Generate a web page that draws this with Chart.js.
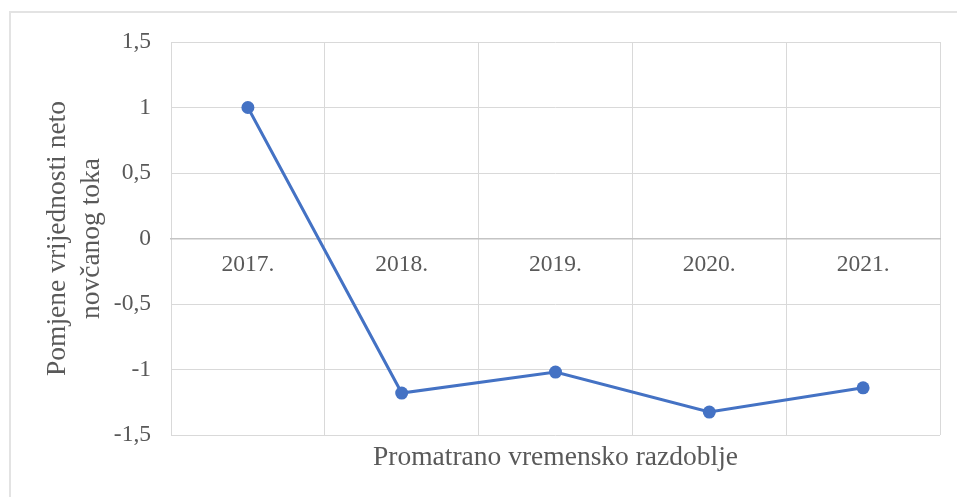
<!DOCTYPE html>
<html>
<head>
<meta charset="utf-8">
<script src="https://cdn.jsdelivr.net/npm/chart.js@4"></script>
<style>
  body { margin: 0; background: #fff; }
  #wrap { position: relative; width: 957px; height: 497px; overflow: hidden; }
  #frame { position: absolute; left: 9px; top: 11px; width: 1000px; height: 600px; border: 2px solid #e3e3e3; }
  #cv { position: absolute; left: 0; top: 0; }
</style>
</head>
<body>
<div id="wrap">
  <div id="frame"></div>
  <canvas id="cv" width="957" height="497"></canvas>
</div>
<script>
var godine = ['2017.', '2018.', '2019.', '2020.', '2021.'];
var promjene = [1, -1.18, -1.02, -1.325, -1.14];
var yNaslov = ['Pomjene vrijednosti neto', 'novčanog toka'];
var xNaslov = 'Promatrano vremensko razdoblje';

var plava = '#4472C4';
var siva = '#595959';
var mreza = '#d9d9d9';
var font = 'Liberation Serif';

var ctx = document.getElementById('cv');
var graf = new Chart(ctx, {
    type: 'line',
    data: {
        labels: godine,
        datasets: [{
            data: promjene,
            borderColor: plava,
            backgroundColor: plava,
            borderWidth: 3,
            pointRadius: 6.5,
            pointBorderWidth: 0,
            tension: 0
        }]
    },
    options: {
        responsive: false,
        animation: false,
        layout: { padding: { left: 20, top: 42, right: 17, bottom: 0 } },
        plugins: {
            legend: { display: false },
            tooltip: { enabled: false }
        },
        scales: {
            x: {
                position: { y: 0 },
                offset: true,
                grid: { color: mreza, offset: true, drawTicks: false, lineWidth: 1 },
                border: { color: '#c4c4c4', width: 1.5 },
                ticks: { color: siva, padding: 12, font: { family: font, size: 23.5 } }
            },
            x2: {
                type: 'category',
                labels: godine,
                position: 'bottom',
                grid: { display: false, drawTicks: false },
                border: { display: false },
                ticks: { display: false },
                title: {
                    display: true,
                    text: xNaslov,
                    color: siva,
                    font: { family: font, size: 27.5, lineHeight: 1.2 },
                    padding: { top: 0, bottom: 22.5 }
                },
                afterFit: function (s) { s.height = 62; }
            },
            y: {
                min: -1.5,
                max: 1.5,
                grid: { color: mreza, drawTicks: false },
                border: { display: false },
                ticks: {
                    stepSize: 0.5,
                    padding: 20,
                    color: siva,
                    font: { family: font, size: 23.5 },
                    callback: function (v) { return String(v).replace('.', ','); }
                },
                title: {
                    display: true,
                    text: yNaslov,
                    color: siva,
                    font: { family: font, size: 27.5, lineHeight: 1.24 },
                    padding: { top: 21, bottom: 0 }
                },
                afterFit: function (s) { s.width = 151; }
            }
        }
    }
});
</script>
</body>
</html>
